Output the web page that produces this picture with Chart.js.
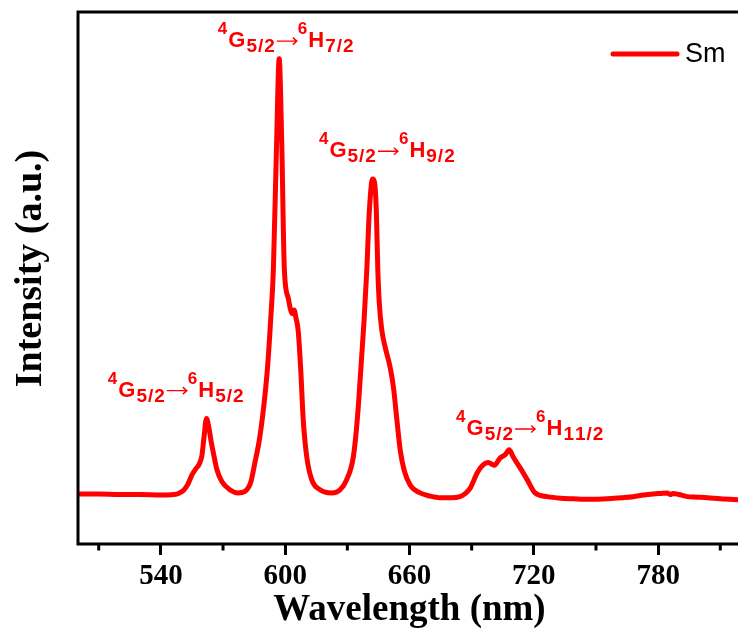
<!DOCTYPE html>
<html>
<head>
<meta charset="utf-8">
<title>Sm emission spectrum</title>
<script src="https://cdn.jsdelivr.net/npm/chart.js@4.4.1/dist/chart.umd.min.js"></script>
<style>
    html, body { margin: 0; padding: 0; background: #fff; overflow: hidden; }
    #wrap { position: relative; width: 744px; height: 633px; }
</style>
</head>
<body>
<div id="wrap"><canvas id="spectrum" width="744" height="633"></canvas></div>
<script>
// Emission spectrum of the Sm3+ doped sample
const wavelength = [
    500, 510, 520, 530, 540, 546, 548.5, 551, 553, 555, 557, 558.5, 559.8, 560.8, 562, 563.2,
    564.3, 565.5, 567.1, 569.5, 573.3, 577.2, 580.6, 583.3, 585.4, 587.5, 589.4, 591.4, 593.0,
    594.3, 595.9, 597.1, 598.3, 599.6, 601.5, 602.6, 603.4, 604.3, 605.2, 606.3, 607.5, 608.7,
    610.4, 612.8, 616.8, 622.5, 626.5, 629.7, 632.9, 634.8, 636.5, 638.1, 639.4, 640.6, 642.2,
    643.1, 644, 644.7, 645.4, 646.6, 648.2, 650.6, 652.2, 653.9, 655.5, 657.4, 660.3, 665.1,
    670, 674.8, 680, 684.4, 687, 689.3, 692.7, 695.1, 698, 700.9, 703.8, 706.2, 708.1, 710,
    713.4, 716.8, 720.6, 726.5, 733, 739, 747, 755.5, 762, 768, 773, 777.7, 781, 784.4, 785.9,
    787.3, 790, 794.1, 799, 803.8, 810, 820
];
const intensity = [
    94, 94, 93, 93, 92, 93, 95, 101, 112, 130, 142, 150, 166, 200, 236, 218,
    192, 168, 139, 117, 102, 96, 99, 115, 153, 195, 250, 328, 422,
    516, 761, 912, 761, 516, 462, 440, 433, 440, 425, 400, 328, 234,
    164, 121, 102, 96, 102, 121, 164, 234, 328, 422, 516, 625, 686,
    680, 625, 516, 454, 403, 371, 333, 296, 234, 177, 139, 111, 96,
    90, 87, 87, 89, 95, 105, 134, 147, 153, 148, 162, 168, 177, 164,
    143, 121, 96, 89, 86, 85, 84, 85, 87, 89, 92, 94, 95, 96, 93,
    95, 93, 89, 88, 87, 85, 83
];
const seriesLabel = 'Sm';
const xTicks = [540, 600, 660, 720, 780];
const xMinorTicks = [510, 570, 630, 690, 750, 810];

// 4G5/2 -> 6HJ transitions, anchored at (nm, intensity) of the label's left baseline
const transitionJ = ['5/2', '7/2', '9/2', '11/2'];
const transitionNm = [514.4, 567.5, 616.3, 682.5];
const transitionLevel = [277, 934, 727, 205];

const SANS = '"Liberation Sans", Arial, sans-serif';
const SERIF = '"Liberation Serif", "Times New Roman", serif';
const RED = '#ff0000';

function termParts(j) {
    const sup = { font: `bold 17px ${SANS}`, dy: -13 };
    const main = { font: `bold 22px ${SANS}`, dy: 0 };
    const sub = { font: `bold 19px ${SANS}`, dy: 5, spacing: 1 };
    return [
        { text: '4', ...sup },
        { text: 'G', ...main, gap: 1 },
        { text: '5/2', ...sub, gap: 1 },
        { arrow: 22 },
        { text: '6', ...sup },
        { text: 'H', ...main, gap: 1 },
        { text: j, ...sub, gap: 1 }
    ];
}

// thin right arrow, drawn as a line with a small head
function drawArrow(ctx, x, y, len) {
    ctx.save();
    ctx.strokeStyle = RED;
    ctx.lineWidth = 1.4;
    ctx.beginPath();
    ctx.moveTo(x + 1, y);
    ctx.lineTo(x + len - 1, y);
    ctx.moveTo(x + len - 5, y - 3.5);
    ctx.lineTo(x + len - 1, y);
    ctx.lineTo(x + len - 5, y + 3.5);
    ctx.stroke();
    ctx.restore();
}

const framePlugin = {
    id: 'frame',
    afterDraw(chart) {
        const { ctx, chartArea: a, scales } = chart;
        ctx.save();
        ctx.strokeStyle = '#000';
        ctx.lineWidth = 3;
        ctx.strokeRect(a.left, a.top, a.right - a.left, a.bottom - a.top);
        // minor ticks between the labelled ones
        ctx.beginPath();
        xMinorTicks.forEach(v => {
            const px = scales.x.getPixelForValue(v);
            ctx.moveTo(px, a.bottom);
            ctx.lineTo(px, a.bottom + 6.5);
        });
        ctx.stroke();
        ctx.restore();
    }
};

const transitionLabels = {
    id: 'transitionLabels',
    afterDatasetsDraw(chart) {
        const { ctx, scales } = chart;
        ctx.save();
        ctx.fillStyle = RED;
        ctx.textBaseline = 'alphabetic';
        ctx.textAlign = 'left';
        transitionJ.forEach((j, i) => {
            let x = scales.x.getPixelForValue(transitionNm[i]);
            const y = scales.y.getPixelForValue(transitionLevel[i]);
            termParts(j).forEach(p => {
                if (p.arrow) {
                    drawArrow(ctx, x, y - 6, p.arrow);
                    x += p.arrow;
                    return;
                }
                ctx.font = p.font;
                x += p.gap || 0;
                for (const ch of p.text) {
                    ctx.fillText(ch, x, y + p.dy);
                    x += ctx.measureText(ch).width + (p.spacing || 0);
                }
            });
        });
        ctx.restore();
    }
};

const cornerLegend = {
    id: 'cornerLegend',
    afterDraw(chart) {
        const { ctx, chartArea: a } = chart;
        const ds = chart.data.datasets[0];
        const y = a.top + 42;
        ctx.save();
        ctx.strokeStyle = ds.borderColor;
        ctx.lineWidth = ds.borderWidth;
        ctx.lineCap = 'round';
        ctx.beginPath();
        ctx.moveTo(a.right - 128, y);
        ctx.lineTo(a.right - 64, y);
        ctx.stroke();
        ctx.fillStyle = '#000';
        ctx.font = `27px ${SANS}`;
        ctx.textBaseline = 'middle';
        ctx.fillText(ds.label, a.right - 56, y + 1);
        ctx.restore();
    }
};

new Chart(document.getElementById('spectrum'), {
    type: 'line',
    data: {
        datasets: [{
            label: seriesLabel,
            data: wavelength.map((w, i) => ({ x: w, y: intensity[i] })),
            borderColor: RED,
            borderWidth: 5,
            pointRadius: 0,
            cubicInterpolationMode: 'monotone',
            fill: false
        }]
    },
    options: {
        responsive: false,
        animation: false,
        layout: { padding: { top: 12, right: 3, left: 0, bottom: 0 } },
        plugins: {
            legend: { display: false },
            tooltip: { enabled: false }
        },
        scales: {
            x: {
                type: 'linear',
                min: 500,
                max: 820,
                afterBuildTicks: scale => {
                    scale.ticks = xTicks.map(v => ({ value: v }));
                },
                afterFit: scale => { scale.height = 89; },
                ticks: {
                    color: '#000',
                    padding: 4,
                    maxRotation: 0,
                    font: { family: SERIF, size: 29, weight: 'bold' }
                },
                grid: {
                    drawOnChartArea: false,
                    color: '#000',
                    tickColor: '#000',
                    tickLength: 11,
                    tickWidth: 3
                },
                border: { display: false },
                title: {
                    display: true,
                    text: 'Wavelength (nm)',
                    color: '#000',
                    padding: { top: 0, bottom: 0 },
                    font: { family: SERIF, size: 37, weight: 'bold' }
                }
            },
            y: {
                min: 0,
                max: 1000,
                afterFit: scale => { scale.width = 78; },
                ticks: { display: false },
                grid: { display: false },
                border: { display: false },
                title: {
                    display: true,
                    // leading en space lifts the title a little above the axis middle
                    text: '\u2002Intensity (a.u.)',
                    color: '#000',
                    padding: { top: 8, bottom: 0 },
                    font: { family: SERIF, size: 38, weight: 'bold' }
                }
            }
        }
    },
    plugins: [transitionLabels, framePlugin, cornerLegend]
});
</script>
</body>
</html>
